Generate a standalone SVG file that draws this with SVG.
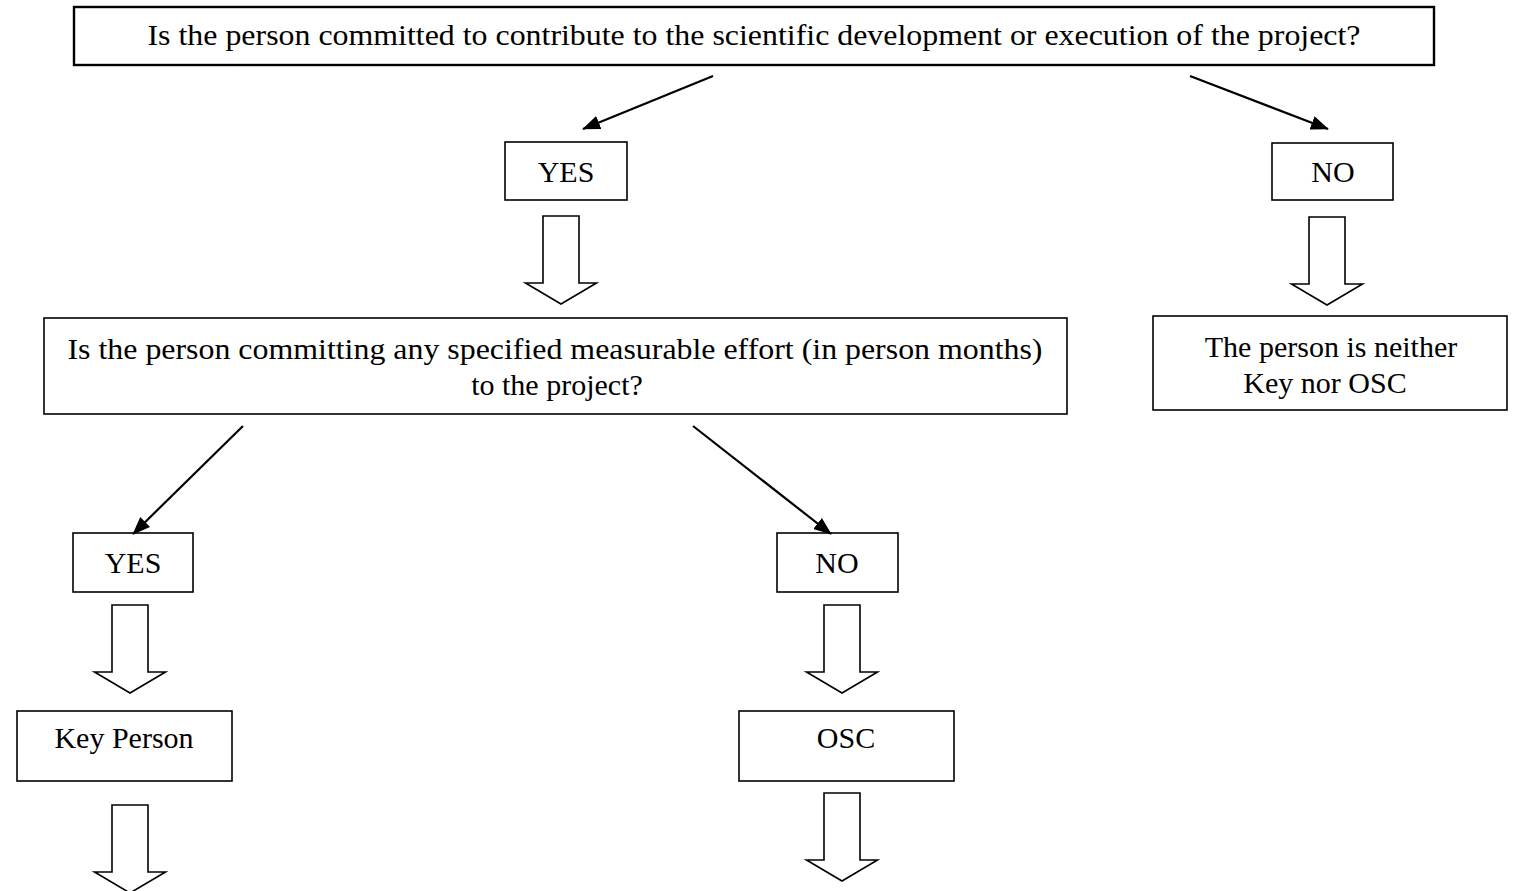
<svg xmlns="http://www.w3.org/2000/svg" width="1525" height="891" viewBox="0 0 1525 891">
<style>
.box{fill:#fff;stroke:#000;stroke-width:1.6}
.tbox{fill:#fff;stroke:#000;stroke-width:2.4}
.t{font-family:"Liberation Serif","Times New Roman",serif;font-size:30px;fill:#000;text-anchor:middle}
.ln{stroke:#000;stroke-width:2.2;fill:none;marker-end:url(#ah)}
.blk{fill:#fff;stroke:#000;stroke-width:1.6;stroke-linejoin:miter}
</style>
<defs>
<marker id="ah" viewBox="0 0 10 10" refX="9.5" refY="5" markerWidth="18" markerHeight="14" markerUnits="userSpaceOnUse" orient="auto" preserveAspectRatio="none">
<path d="M0,0 L10,5 L0,10 Z" fill="#000"/>
</marker>
<path id="barrow" d="M-18,0 H18 V67 H35.5 L0,88 L-35.5,67 H-18 Z"/>
</defs>
<rect width="1525" height="891" fill="#fff"/>
<g id="q1"><rect class="tbox" x="74" y="7" width="1360" height="58"/><text class="t" x="754" y="45" textLength="1213" lengthAdjust="spacingAndGlyphs">Is the person committed to contribute to the scientific development or execution of the project?</text></g>
<g id="yes1"><rect class="box" x="505" y="142" width="122" height="58"/><text class="t" x="566" y="182">YES</text></g>
<g id="no1"><rect class="box" x="1272" y="143" width="121" height="57"/><text class="t" x="1333" y="182">NO</text></g>
<g id="q2"><rect class="box" x="44" y="318" width="1023" height="96"/><text class="t" x="555" y="359" textLength="975" lengthAdjust="spacingAndGlyphs">Is the person committing any specified measurable effort (in person months)</text><text class="t" x="557" y="395">to the project?</text></g>
<g id="neither"><rect class="box" x="1153" y="316" width="354" height="94"/><text class="t" x="1331" y="357">The person is neither</text><text class="t" x="1325" y="393">Key nor OSC</text></g>
<g id="yes2"><rect class="box" x="73" y="533" width="120" height="59"/><text class="t" x="133" y="573">YES</text></g>
<g id="no2"><rect class="box" x="777" y="533" width="121" height="59"/><text class="t" x="837" y="573">NO</text></g>
<g id="key"><rect class="box" x="17" y="711" width="215" height="70"/><text class="t" x="124" y="748">Key Person</text></g>
<g id="osc"><rect class="box" x="739" y="711" width="215" height="70"/><text class="t" x="846" y="748">OSC</text></g>
<g id="connectors">
<line class="ln" x1="713" y1="76" x2="583" y2="129"/>
<line class="ln" x1="1190" y1="76" x2="1328" y2="129"/>
<line class="ln" x1="243" y1="426" x2="133" y2="534"/>
<line class="ln" x1="693" y1="426" x2="831" y2="534"/>
<use href="#barrow" class="blk" x="561" y="216"/>
<use href="#barrow" class="blk" x="1327" y="217"/>
<use href="#barrow" class="blk" x="130" y="605"/>
<use href="#barrow" class="blk" x="130" y="805"/>
<use href="#barrow" class="blk" x="842" y="605"/>
<use href="#barrow" class="blk" x="842" y="793"/>
</g>
</svg>
